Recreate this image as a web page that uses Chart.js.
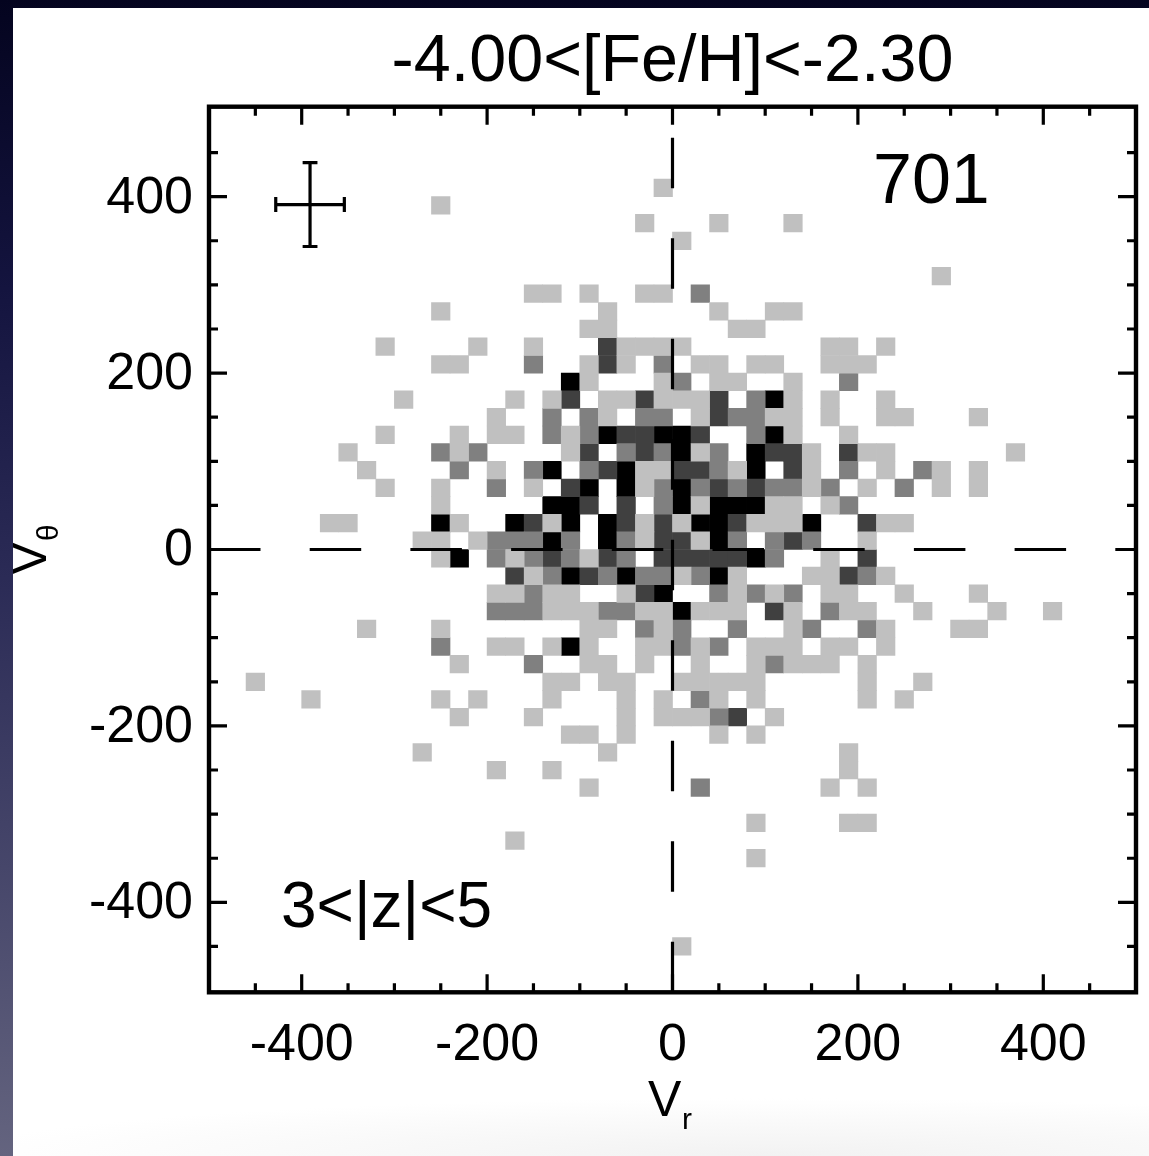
<!DOCTYPE html>
<html>
<head>
<meta charset="utf-8">
<style>
  html, body { margin: 0; padding: 0; width: 1149px; height: 1156px; overflow: hidden; }
  body { background: linear-gradient(180deg, #04041f 0%, #14143f 25%, #2b2b56 50%, #46466a 75%, #64647f 100%); position: relative; }
  #c { position: absolute; left: 13px; top: 8px; background: radial-gradient(ellipse 820px 58px at 760px 100%, #f2f2f2, #ffffff); }
</style>
<script src="https://cdn.jsdelivr.net/npm/chart.js@4"></script>
</head>
<body>
<canvas id="c" width="1136" height="1148"></canvas>
<script>
const titleText = '-4.00<[Fe/H]<-2.30';
const countText = '701';
const zRangeText = '3<|z|<5';
const majorTicks = [-400, -200, 0, 200, 400];
const minorTicks = [-450, -350, -300, -250, -150, -100, -50, 50, 100, 150, 250, 300, 350, 450];
const binWidth = 20;

// Each row: [V_theta bin index, [V_r bin indices]]; bin i covers i*binWidth .. (i+1)*binWidth
const lightCells = [
  [20,[-1]], [19,[-13]], [18,[-2,2,6]], [17,[0]], [15,[14]],
  [14,[-8,-7,-5,-2,-1]], [13,[-13,-4,2,5,6]], [12,[-5,-4,3,4]],
  [11,[-16,-11,-8,-3,-2,-1,0,8,9,11]], [10,[-13,-12,-5,-3,1,2,4,5,8,9,10]],
  [9,[-5,-1,2,3,6]], [8,[-15,-9,-7,-4,-3,-1,0,1,6,8,11]],
  [7,[-10,-4,1,5,6,8,11,12,16]], [6,[-16,-12,-10,-9,-6,6,9]],
  [5,[-18,-12,-6,1,7,10,11,18]], [4,[-17,-10,-2,-1,3,7,11,14,16]],
  [3,[-16,-13,-8,-2,7,10,14,16]], [2,[-13,1,5,6,8]],
  [1,[-19,-18,-12,-7,-2,0,4,5,6,11,12]], [0,[-14,-13,-11,-2,1,10]],
  [-1,[-13,-9,-5,8]], [-2,[-8,0,3,7,8,11]],
  [-3,[-10,-9,-7,-6,-3,3,5,8,9,12,16]],
  [-4,[-7,-6,-5,-2,-1,1,2,3,6,9,10,13,17,20]],
  [-5,[-17,-13,-5,-4,-1,6,11,15,16]],
  [-6,[-10,-9,-7,-5,-2,-1,1,4,5,6,8,9,11]],
  [-7,[-12,-5,-4,-2,1,4,6,7,8,10]],
  [-8,[-23,-7,-6,-4,-3,0,1,2,3,4,10,13]],
  [-9,[-20,-13,-11,-7,-3,-1,2,4,10,12]],
  [-10,[-12,-8,-3,-1,0,1,5]], [-11,[-6,-5,-3,2,4]],
  [-12,[-14,-4,9]], [-13,[-10,-7,9]], [-14,[-5,8,10]],
  [-16,[4,9,10]], [-17,[-9]], [-18,[4]], [-23,[0]]
];
const midCells = [
  [14,[1]], [10,[-8,-1]], [9,[0,9]], [8,[4]], [7,[-7,-5,-2,-1,3,4]],
  [6,[-7,-5,4]], [5,[-13,-11,-3,-1,2]], [4,[-12,-8,-5,2,9,13]],
  [3,[-10,-1,1,3,5,6,8,12]], [2,[-1,9]], [0,[-10,-9,-8,-6,-3,3,5,7]],
  [-1,[-10,-8,-6,-3,5]], [-2,[-7,-4,-2,-1,1,10]], [-3,[-8,2,4,6]],
  [-4,[-10,-9,-8,-4,-3,8]], [-5,[-2,0,3,7,10]], [-6,[-13,0,2]],
  [-7,[-8,5]], [-9,[1]], [-10,[2]], [-14,[1]]
];
const darkCells = [
  [11,[-4]], [10,[-4]], [8,[-6,-2,2]], [7,[2]], [6,[-3,-2,1]],
  [5,[-5,-2,5,6,9]], [4,[-4,0,1,6]], [3,[-6,2,4]], [2,[-5,-3]],
  [1,[-8,-3,-1,3,10]], [0,[-1,0,6]], [-1,[-7,-4,-1,0,1,2,3,10]],
  [-2,[-9,-5,9]], [-3,[-2]], [-4,[5]], [-10,[3]]
];
const blackCells = [
  [9,[-6]], [8,[5]], [6,[-4,-1,0,5]], [5,[0,4]], [4,[-7,-3,4]],
  [3,[-5,-3,0]], [2,[-7,-6,0,2,3,4]], [1,[-13,-9,-6,-4,1,2,7]],
  [0,[-7,-4,2]], [-1,[-12,4]], [-2,[-6,-3,2]], [-3,[-1]], [-4,[0]], [-6,[-6]]
];

const zeroLineVr = [-500, 500];
const zeroLineVtheta = [-502, 502];
const errCentreVr = -391;
const errCentreVtheta = 391;
const errHalfVr = 37;
const errHalfVtheta = 47.5;
const errCapVr = 8;
const errCapVtheta = 8.5;

function cells(rows) {
  const out = [];
  rows.forEach(([j, list]) => list.forEach(i => out.push({
    x: (i + 0.5) * binWidth,
    y: [j * binWidth, (j + 1) * binWidth]
  })));
  return out;
}
function cellSet(rows, colour) {
  return { type: 'bar', data: cells(rows), backgroundColor: colour, borderWidth: 0,
           grouped: false, barThickness: 18.6, inflateAmount: 0.3, order: 2 };
}
const gap = { x: null, y: null };
const errorBarPoints = [
  { x: errCentreVr - errHalfVr, y: errCentreVtheta }, { x: errCentreVr + errHalfVr, y: errCentreVtheta }, gap,
  { x: errCentreVr, y: errCentreVtheta - errHalfVtheta }, { x: errCentreVr, y: errCentreVtheta + errHalfVtheta }, gap,
  { x: errCentreVr - errHalfVr, y: errCentreVtheta - errCapVtheta }, { x: errCentreVr - errHalfVr, y: errCentreVtheta + errCapVtheta }, gap,
  { x: errCentreVr + errHalfVr, y: errCentreVtheta - errCapVtheta }, { x: errCentreVr + errHalfVr, y: errCentreVtheta + errCapVtheta }, gap,
  { x: errCentreVr - errCapVr, y: errCentreVtheta + errHalfVtheta }, { x: errCentreVr + errCapVr, y: errCentreVtheta + errHalfVtheta }, gap,
  { x: errCentreVr - errCapVr, y: errCentreVtheta - errHalfVtheta }, { x: errCentreVr + errCapVr, y: errCentreVtheta - errHalfVtheta }
];
function lineSet(data, extra) {
  return Object.assign({ type: 'scatter', data, showLine: true, spanGaps: false, pointRadius: 0,
    borderColor: '#000', borderWidth: 3.2, order: 1 }, extra || {});
}

const frameAndLabels = {
  id: 'frameAndLabels',
  beforeDraw(chart) {
    // nudge the y tick labels so that the digits sit centred on their ticks
    chart.scales.y.getLabelItems().forEach(item => {
      if (!item.nudged) { item.textOffset += 1.5; item.nudged = true; }
    });
  },
  afterDatasetsDraw(chart) {
    const { ctx, chartArea: a, scales: { x, y } } = chart;
    ctx.save();
    ctx.strokeStyle = '#000';
    ctx.fillStyle = '#000';
    const drawTicks = (values, len, width) => {
      ctx.lineWidth = width;
      ctx.beginPath();
      values.forEach(v => {
        const px = x.getPixelForValue(v);
        ctx.moveTo(px, a.top); ctx.lineTo(px, a.top + len);
        ctx.moveTo(px, a.bottom); ctx.lineTo(px, a.bottom - len);
        const py = y.getPixelForValue(v);
        ctx.moveTo(a.left, py); ctx.lineTo(a.left + len, py);
        ctx.moveTo(a.right, py); ctx.lineTo(a.right - len, py);
      });
      ctx.stroke();
    };
    drawTicks(minorTicks, 9, 3.2);
    drawTicks(majorTicks, 18, 3.2);
    ctx.lineWidth = 4.4;
    ctx.strokeRect(a.left, a.top, a.right - a.left, a.bottom - a.top);

    ctx.textBaseline = 'alphabetic';
    ctx.textAlign = 'left';
    ctx.font = '70px "Liberation Sans"';
    ctx.fillText(countText, 860, 195);
    ctx.font = '64px "Liberation Sans"';
    ctx.fillText(zRangeText, 268, 919);

    // x axis title with subscript
    ctx.font = '50px "Liberation Sans"';
    ctx.fillText('V', 635, 1108);
    ctx.font = '30px "Liberation Sans"';
    ctx.fillText('r', 669, 1121);

    // y axis title with subscript (rotated)
    ctx.save();
    ctx.translate(33, 567);
    ctx.rotate(-Math.PI / 2);
    ctx.font = '50px "Liberation Sans"';
    ctx.fillText('V', 0, 0);
    ctx.font = '30px "Liberation Sans"';
    ctx.fillText('\u03B8', 34, 12);
    ctx.restore();
    ctx.restore();
  }
};

new Chart(document.getElementById('c'), {
  data: {
    datasets: [
      cellSet(lightCells, '#c0c0c0'),
      cellSet(midCells, '#808080'),
      cellSet(darkCells, '#404040'),
      cellSet(blackCells, '#000000'),
      lineSet([{ x: zeroLineVr[0], y: 0 }, { x: zeroLineVr[1], y: 0 }], { borderDash: [51.5, 49.2] }),
      lineSet([{ x: 0, y: zeroLineVtheta[0] }, { x: 0, y: zeroLineVtheta[1] }], { borderDash: [50.5, 50] }),
      lineSet(errorBarPoints)
    ]
  },
  options: {
    responsive: false,
    animation: false,
    events: [],
    layout: { padding: { left: 0, right: 13, top: 0, bottom: 0 } },
    plugins: {
      legend: { display: false },
      tooltip: { enabled: false },
      title: {
        display: true, text: titleText, color: '#000', fullSize: false,
        font: { family: '"Liberation Sans"', size: 66.5, weight: 'normal', lineHeight: 1 },
        padding: { top: 21, bottom: 11.2 }
      }
    },
    scales: {
      x: {
        type: 'linear', min: -500, max: 500, offset: false,
        afterBuildTicks: s => { s.ticks = majorTicks.map(value => ({ value })); },
        afterFit: s => { s.height = 163.7; },
        grid: { display: false, drawTicks: false, offset: false },
        border: { display: false },
        ticks: { color: '#000', padding: 22, autoSkip: false, maxRotation: 0,
                 font: { family: '"Liberation Sans"', size: 52 }, callback: v => String(v) }
      },
      y: {
        type: 'linear', min: zeroLineVtheta[0], max: zeroLineVtheta[1],
        afterBuildTicks: s => { s.ticks = majorTicks.map(value => ({ value })); },
        afterFit: s => { s.width = 196; },
        grid: { display: false, drawTicks: false },
        border: { display: false },
        ticks: { color: '#000', padding: 16, autoSkip: false,
                 font: { family: '"Liberation Sans"', size: 52 }, callback: v => String(v) }
      }
    }
  },
  plugins: [frameAndLabels]
});
</script>
</body>
</html>
